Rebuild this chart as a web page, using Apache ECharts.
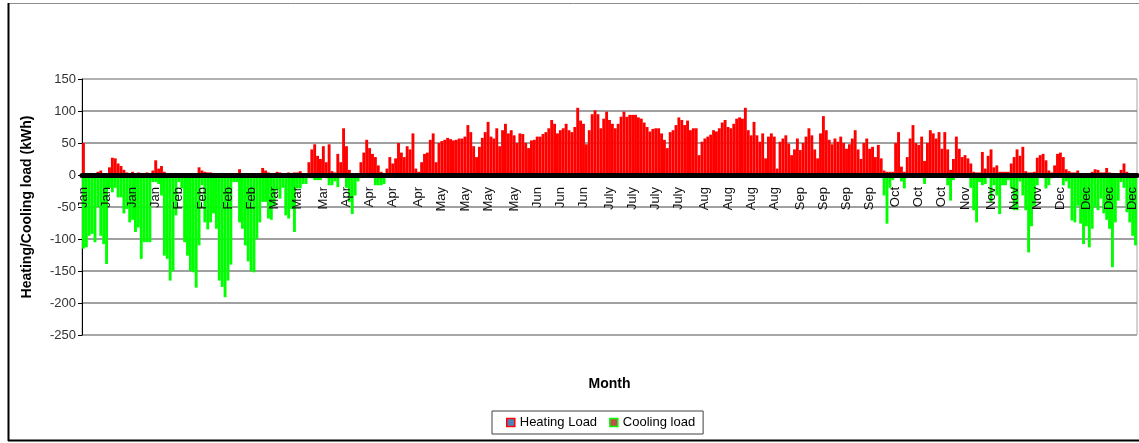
<!DOCTYPE html>
<html>
<head>
<meta charset="utf-8">
<script src="https://cdn.jsdelivr.net/npm/echarts@6/dist/echarts.min.js"></script>
<style>
html,body{margin:0;padding:0;background:#fff;}
#chart{width:1139px;height:443px;}
</style>
</head>
<body>
<div id="chart"></div>
<script>
// Month names (tick labels) and days per month for the daily categories
const monthNames = ['Jan','Feb','Mar','Apr','May','Jun','July','Aug','Sep','Oct','Nov','Dec'];
const monthDays = [31,28,31,30,31,30,31,31,30,31,30,31];
const seriesNames = ['Heating Load','Cooling load'];

// Daily heating load (kWh)
const heating = [
50,2,2,3,2,5,7,3,2,12,
27,26,18,14,8,4,3,5,3,4,
2,3,4,3,7,23,10,14,5,2,
1,2,1,3,3,1,1,1,1,2,
12,7,5,4,4,3,1,1,1,1,
1,1,2,2,9,3,2,1,3,1,
1,1,11,7,4,3,2,5,4,3,
3,4,3,4,4,6,2,2,20,40,
48,30,25,45,20,48,6,4,33,20,
73,45,8,2,2,2,20,35,55,42,
33,28,15,5,2,10,28,18,26,50,
35,28,45,40,65,10,5,20,33,35,
55,65,20,50,53,55,58,56,54,55,
57,57,60,78,67,45,28,44,58,67,
83,60,57,73,45,70,80,65,70,62,
50,65,64,50,42,54,55,60,60,64,
67,73,86,80,65,70,73,80,70,67,
75,105,85,80,48,70,95,101,95,73,
88,99,86,80,73,80,91,99,91,94,
94,94,90,88,82,75,68,72,73,73,
65,55,42,67,70,78,90,86,78,85,
70,73,73,31,52,57,60,63,70,68,
73,82,86,75,73,80,88,90,88,105,
70,62,83,62,52,65,26,60,65,60,
10,52,57,62,49,31,40,57,39,50,
60,73,62,40,26,65,92,70,55,48,
57,52,60,50,41,48,57,70,40,25,
50,57,41,44,28,47,26,7,5,5,
5,50,67,13,5,28,57,78,50,47,
60,22,50,70,65,57,67,41,67,40,
8,25,60,41,28,31,26,18,5,4,
4,36,10,30,40,12,15,5,5,5,
5,18,28,40,30,44,6,4,4,5,
27,31,33,23,7,4,15,33,35,28,
9,6,4,4,7,3,3,3,3,5,
9,8,4,4,11,4,3,3,3,8,
18,5,3,3,3
];

// Daily cooling load (kWh, negative)
const cooling = [
-115,-113,-95,-92,-105,-50,-95,-108,-139,-20,
-27,-20,-35,-35,-60,-53,-74,-70,-89,-82,
-131,-105,-105,-105,-11,-11,-14,-32,-126,-131,
-165,-150,-63,-11,-21,-105,-126,-150,-152,-176,
-110,-16,-74,-85,-74,-60,-84,-165,-175,-191,
-165,-140,-11,-11,-74,-84,-110,-135,-150,-152,
-100,-74,-42,-42,-68,-70,-48,-24,-37,-20,
-63,-68,-53,-89,-21,-21,-14,-14,-5,-5,
-8,-8,-8,-3,-5,-16,-16,-10,-19,-3,
-3,-20,-42,-61,-32,-10,0,0,0,0,
0,-16,-16,-16,-14,0,0,0,0,0,
0,0,0,0,0,0,0,0,0,0,0,0,0,0,0,0,0,0,0,0,
0,0,0,0,0,0,0,0,0,0,0,0,0,0,0,0,0,0,0,0,
0,0,0,0,0,0,0,0,0,0,0,0,0,0,0,0,0,0,0,0,
0,0,0,0,0,0,0,0,0,0,0,0,0,0,0,0,0,0,0,0,
0,0,0,0,0,0,0,0,0,0,0,0,0,0,0,0,0,0,0,0,
0,0,0,0,0,0,0,0,0,0,0,0,0,0,0,0,0,0,0,0,
0,0,0,0,0,0,0,0,0,0,0,0,0,0,0,0,0,0,0,0,
0,0,0,0,0,0,0,0,0,0,0,0,0,0,0,0,0,0,0,0,
0,0,0,0,0,0,0,
-32,-76,-20,-8,0,0,-10,-21,0,0,
0,0,0,0,-14,0,0,0,0,0,
0,0,-16,-40,-8,0,0,0,0,0,
-20,-55,-74,-11,-16,-14,-5,-42,-16,-32,
-61,-16,-16,-8,-21,-55,-55,-10,-32,-55,
-121,-80,-48,-16,0,-5,-21,-16,-5,0,
0,0,-16,-10,-21,-71,-74,-48,-76,-108,
-80,-113,-84,-50,-55,-37,-60,-70,-84,-144,
-74,-40,-11,-20,-58,-74,-95,-110
];

// Category axis: one category per day, labelled with its month name
const days = [];
monthNames.forEach((m, k) => { for (let d = 0; d < monthDays[k]; d++) days.push(m); });

// Labels are shown every 8.25 days (as in the source chart)
const labelStep = 8.25;
const labelIdx = new Set();
for (let j = 0; j * labelStep < days.length; j++) labelIdx.add(Math.round(j * labelStep));

const chart = echarts.init(document.getElementById('chart'), null, {renderer: 'canvas'});
chart.setOption({
  backgroundColor: '#fff',
  animation: false,
  textStyle: {fontFamily: 'Liberation Sans, Arial, sans-serif'},
  graphic: [
    {type: 'line', shape: {x1: 8, y1: 3.5, x2: 1139, y2: 3.5}, style: {stroke: '#8c8c8c', lineWidth: 1}, silent: true},
    {type: 'line', shape: {x1: 8.5, y1: 3, x2: 8.5, y2: 441}, style: {stroke: '#000', lineWidth: 2}, silent: true},
    {type: 'line', shape: {x1: 8, y1: 440.5, x2: 1139, y2: 440.5}, style: {stroke: '#000', lineWidth: 2}, silent: true},
    {type: 'line', shape: {x1: 82, y1: 335, x2: 1137, y2: 335}, style: {stroke: '#a6a6a6', lineWidth: 1.5}, silent: true}
  ],
  grid: {left: 82, right: 2, top: 79, bottom: 108, show: true, borderColor: '#a6a6a6', borderWidth: 1,
         containLabel: false, outerBoundsMode: 'none'},
  legend: {
    left: 492, top: 411,
    padding: [5, 8, 5, 14],
    borderColor: '#404040', borderWidth: 1,
    itemWidth: 8, itemHeight: 8, itemGap: 12,
    icon: 'rect',
    textStyle: {fontSize: 13, color: '#000', fontFamily: 'Liberation Sans, Arial, sans-serif'},
    data: [
      {name: seriesNames[0], itemStyle: {color: '#4f81bd', borderColor: '#ff0000', borderWidth: 1.5}},
      {name: seriesNames[1], itemStyle: {color: '#c0504d', borderColor: '#00ff00', borderWidth: 1.5}}
    ]
  },
  xAxis: {
    type: 'category',
    data: days,
    z: 5,
    position: 'bottom',
    offset: -160,
    name: 'Month',
    nameLocation: 'middle',
    nameGap: 202,
    nameTextStyle: {fontSize: 14, fontWeight: 'bold', color: '#000', verticalAlign: 'top'},
    axisLine: {onZero: false, lineStyle: {color: '#000', width: 5}},
    axisTick: {show: false},
    splitLine: {show: false},
    axisLabel: {
      rotate: 90, margin: 12, fontSize: 13, color: '#111',
      interval: (idx) => labelIdx.has(idx)
    }
  },
  yAxis: {
    type: 'value',
    min: -250, max: 150, interval: 50,
    name: 'Heating/Cooling load (kWh)',
    nameLocation: 'middle',
    nameGap: 48,
    nameTextStyle: {fontSize: 14, fontWeight: 'bold', color: '#000'},
    axisLine: {show: true, lineStyle: {color: '#000', width: 1}},
    axisTick: {show: true, length: 4, lineStyle: {color: '#000'}},
    axisLabel: {fontSize: 13, color: '#333', margin: 6},
    splitLine: {show: true, showMinLine: true, showMaxLine: true,
      lineStyle: {color: ['#a6a6a6','#808080','#808080','#808080','#808080','#808080','#808080','#808080','#a6a6a6'], width: 1.5}}
  },
  series: [
    {name: seriesNames[0], type: 'bar', data: heating, barCategoryGap: '0%', barGap: '-100%',
     itemStyle: {color: '#ff0000'}, large: false},
    {name: seriesNames[1], type: 'bar', data: cooling, barCategoryGap: '0%', barGap: '-100%',
     itemStyle: {color: '#00ff00'}, large: false}
  ]
});
</script>
</body>
</html>
